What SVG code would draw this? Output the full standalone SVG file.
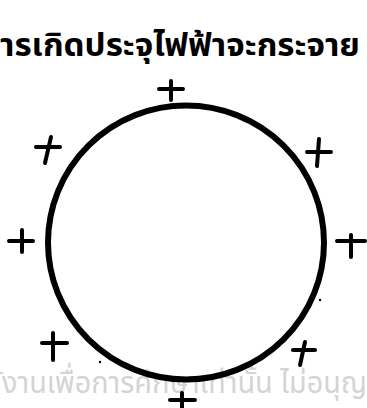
<svg xmlns="http://www.w3.org/2000/svg" width="367" height="408" viewBox="0 0 367 408">
<style>
.title{font-family:"Noto Sans Thai","Noto Serif Thai","Noto Sans","DejaVu Sans",sans-serif;font-size:31px;fill:#000;font-weight:bold}
.wm{font-family:"Noto Sans Thai","Noto Sans","DejaVu Sans",sans-serif;font-size:30px;fill:#d4d4d4}
.plus{stroke:#000;stroke-width:4;stroke-linecap:round;fill:none}
</style>
<rect width="367" height="408" fill="#fff"/>
<text class="wm" x="2" y="393" textLength="365" lengthAdjust="spacingAndGlyphs">ังานเพื่อการศึกษาเท่านั้น ไม่อนุญ</text>
<text class="title" x="0" y="56" textLength="360" lengthAdjust="spacingAndGlyphs">ารเกิดประจุไฟฟ้าจะกระจาย</text>
<g id="sphere">
<ellipse cx="186" cy="242.5" rx="138" ry="137" fill="none" stroke="#000" stroke-width="6"/>
</g>
<g id="charges">
<path class="plus" d="M159 89 L183 89 M171 81 L171 100"/>
<path class="plus" d="M36 147 L60 147 M51 137 L45 163"/>
<path class="plus" d="M307 152 L331 152 M319 139 L317 166"/>
<path class="plus" d="M9 241 L33 241 M22 230 L22 252"/>
<path class="plus" d="M337 241 L365 241 M351 235 L351 257"/>
<path class="plus" d="M42 343 L67 343 M53 333 L53 360"/>
<path class="plus" d="M293 350 L315 350 M305 342 L300 365"/>
<path class="plus" d="M170 400 L195 400 M182 393 L182 410"/>
<circle cx="100" cy="362" r="1.2" fill="#000"/>
<circle cx="320" cy="300" r="1.2" fill="#000"/>
</g>
</svg>
